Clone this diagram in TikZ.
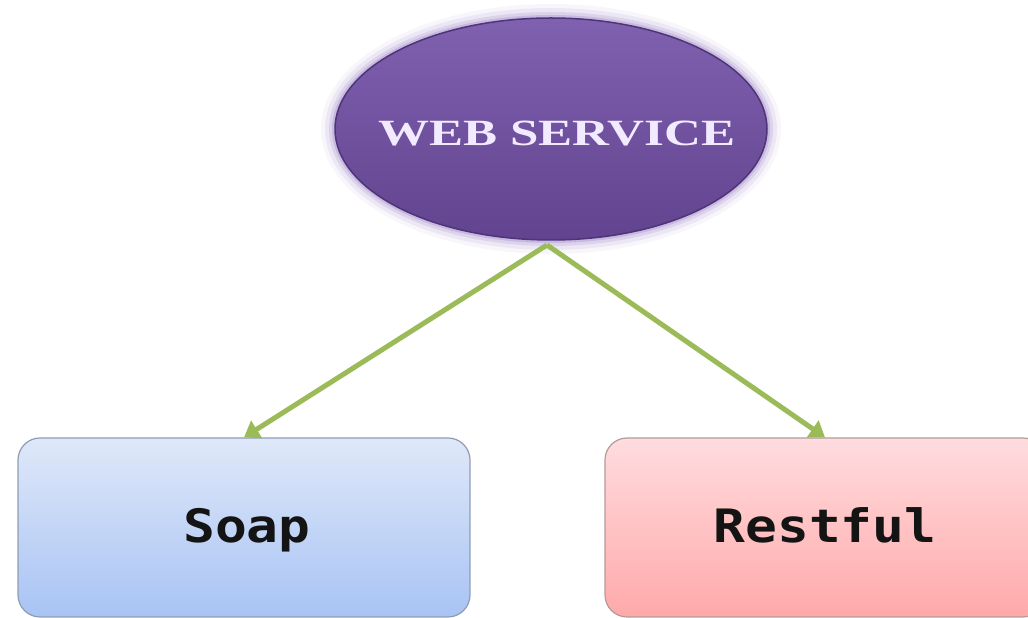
\documentclass[tikz,border=0pt]{standalone}
\usepackage{fontspec}
\newfontfamily\wsfont{Liberation Serif}
\newfontfamily\monofnt{DejaVu Sans Mono}
\usetikzlibrary{arrows.meta,shapes.geometric}
\definecolor{wsTop}{HTML}{8061B0}
\definecolor{wsBot}{HTML}{61438F}
\definecolor{wsEdge}{HTML}{4E3478}
\definecolor{wsGlow}{HTML}{8A6CC0}
\definecolor{wsText}{HTML}{F2EAFF}
\definecolor{soapTop}{HTML}{DFE8F9}
\definecolor{soapBot}{HTML}{A8C3F4}
\definecolor{soapEdge}{HTML}{8E9DB6}
\definecolor{restTop}{HTML}{FFDCDF}
\definecolor{restBot}{HTML}{FFA9A9}
\definecolor{restEdge}{HTML}{B59A9A}
\definecolor{arrowGreen}{HTML}{9BBB59}
\tikzset{
  x=1pt, y=1pt,
  wsnode/.style={ellipse, minimum width=432pt, minimum height=222pt, inner sep=0pt,
    draw=wsEdge, line width=1.5pt, top color=wsTop, bottom color=wsBot},
  boxnode/.style={rectangle, rounded corners=22pt, minimum height=179pt, inner sep=0pt, line width=1.2pt},
  boxlabel/.style={anchor=base, font=\monofnt\bfseries\fontsize{46}{50}\selectfont, text=black!92},
  linkarrow/.style={draw=arrowGreen, line width=5pt,
    -{Triangle[length=15pt,width=20pt,fill=arrowGreen]}}
}
\begin{document}
\begin{tikzpicture}
\useasboundingbox (0,0) rectangle (1028,618);
\fill[white] (0,0) rectangle (1028,618);
% glow around the ellipse
\foreach \g/\o in {14/0.06,10/0.10,6/0.16,3/0.25}{
  \fill[wsGlow, opacity=\o] (551,489) ellipse [x radius=216+\g, y radius=111+\g];
}
\node[wsnode] (ws) at (551,489) {};
\node[text=wsText, font=\wsfont\bfseries\fontsize{37}{40}\selectfont] (wslabel) at (557,484)
  {\scalebox{1.38}[1]{WEB SERVICE}};
\node[boxnode, minimum width=452pt, draw=soapEdge, top color=soapTop, bottom color=soapBot] (soap) at (244,90.5) {};
\node[boxlabel] (soaplabel) at (247,75) {\scalebox{1.15}[1]{Soap}};
\node[boxnode, minimum width=440pt, draw=restEdge, top color=restTop, bottom color=restBot] (rest) at (825,90.5) {};
\node[boxlabel] (restlabel) at (825,75) {\scalebox{1.15}[1]{Restful}};
\coordinate (hub) at (547,373);
\draw[linkarrow] (hub) -- (soap.north);
\draw[linkarrow] (hub) -- (rest.north);
\end{tikzpicture}
\end{document}
